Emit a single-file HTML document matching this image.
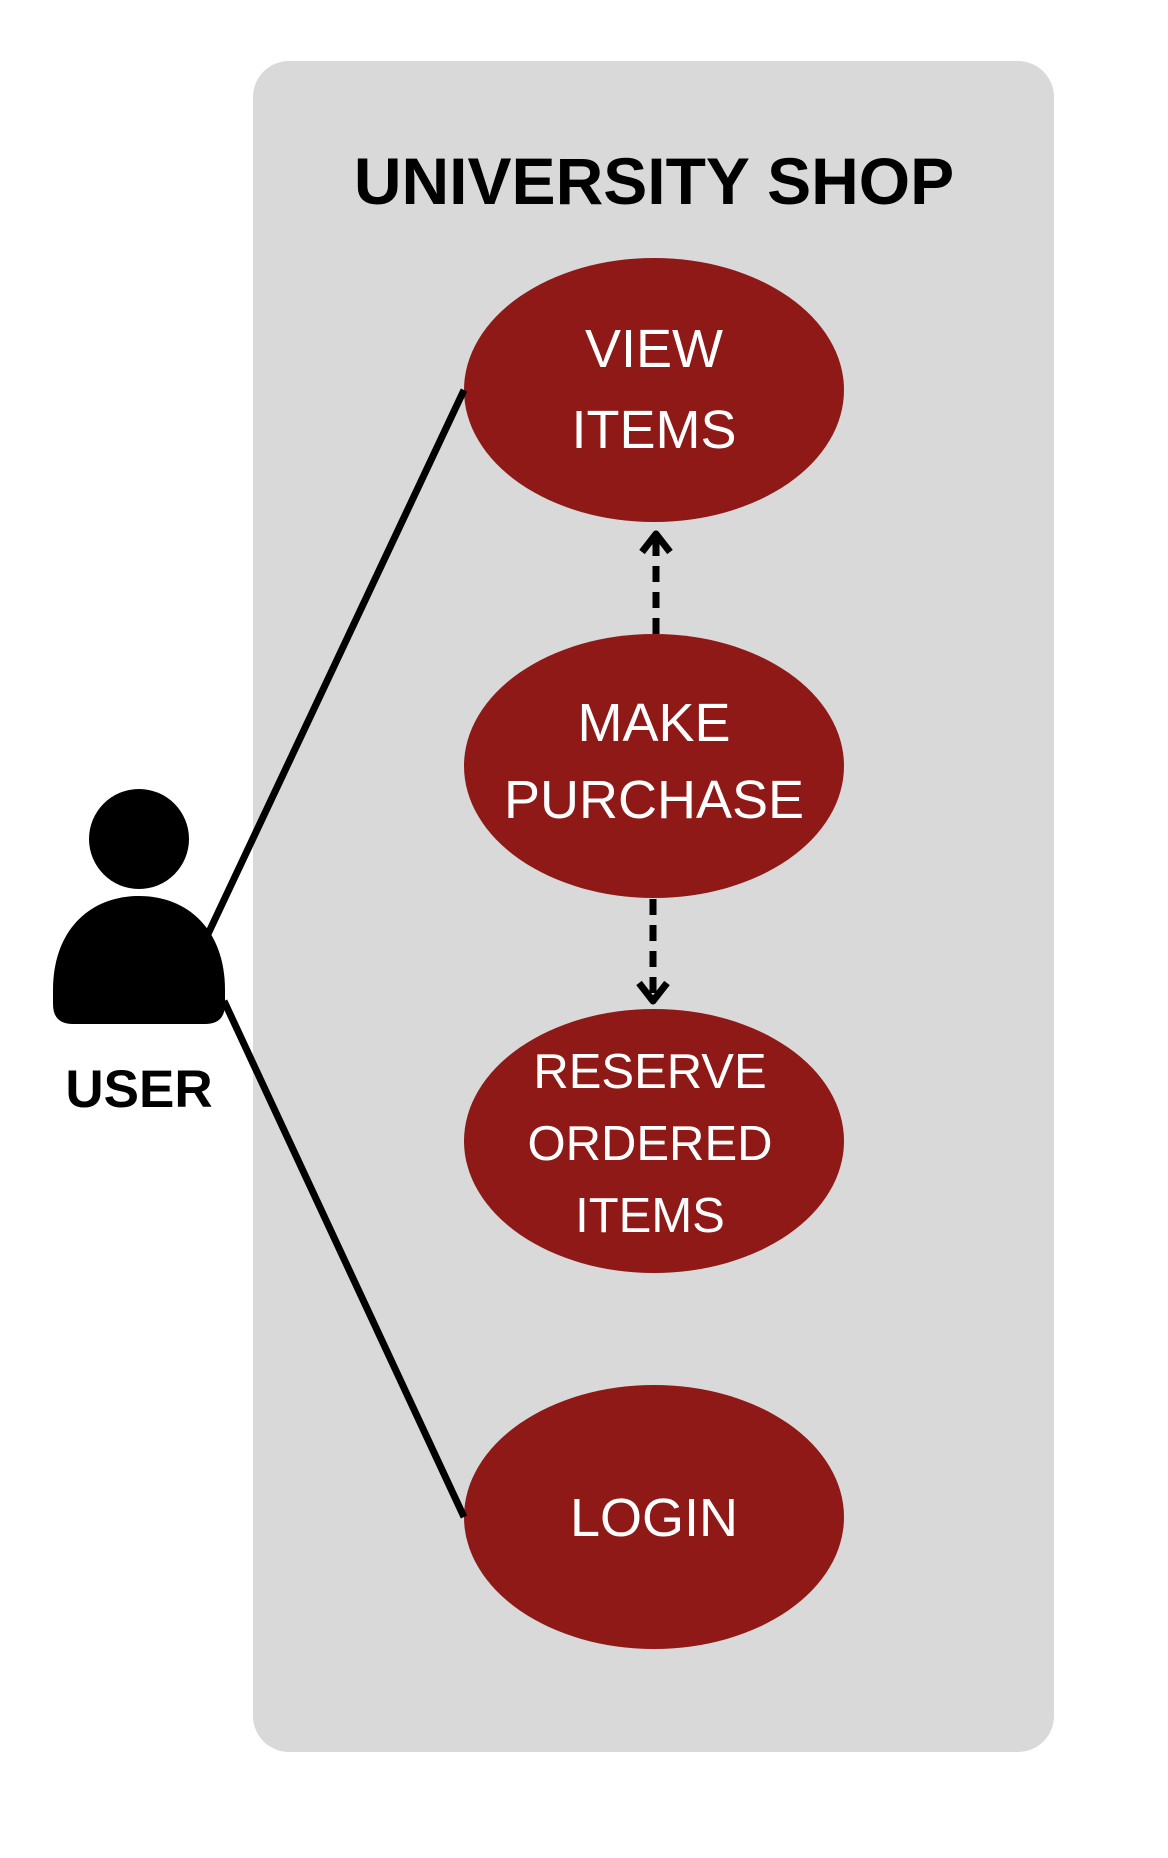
<!DOCTYPE html>
<html><head><meta charset="utf-8"><style>
html,body{margin:0;padding:0;background:#fff;}
svg{display:block;}
</style></head><body>
<svg width="1168" height="1858" viewBox="0 0 1168 1858" xmlns="http://www.w3.org/2000/svg">
<rect x="253" y="61" width="801" height="1691" rx="36" fill="#d9d9d9"/>
<text x="654" y="204" font-family="Liberation Sans, sans-serif" font-weight="bold" font-size="66" text-anchor="middle" fill="#000">UNIVERSITY SHOP</text>
<g fill="#8e1916">
<ellipse cx="654" cy="390" rx="190" ry="132"/>
<ellipse cx="654" cy="766" rx="190" ry="132"/>
<ellipse cx="654" cy="1141" rx="190" ry="132"/>
<ellipse cx="654" cy="1517" rx="190" ry="132"/>
</g>
<g font-family="Liberation Sans, sans-serif" fill="#fff" text-anchor="middle" font-size="54">
<text x="654" y="367">VIEW</text>
<text x="654" y="448">ITEMS</text>
<text x="654" y="741">MAKE</text>
<text x="654" y="818">PURCHASE</text>
<text x="650" y="1088" font-size="49">RESERVE</text>
<text x="650" y="1160" font-size="49">ORDERED</text>
<text x="650" y="1232" font-size="49">ITEMS</text>
<text x="654" y="1536">LOGIN</text>
</g>
<g stroke="#000" stroke-width="7" fill="none">
<line x1="208" y1="934" x2="464" y2="390"/>
<line x1="224" y1="1001" x2="464" y2="1517"/>
<line x1="656" y1="634" x2="656" y2="540" stroke-dasharray="16 10"/>
<polyline points="642,552 656,534 670,552" stroke-linejoin="round"/>
<line x1="653" y1="899" x2="653" y2="995" stroke-dasharray="16 10"/>
<polyline points="639,983 653,1001 667,983" stroke-linejoin="round"/>
</g>
<circle cx="139" cy="839" r="50" fill="#000"/>
<path d="M53,990 C53,930 90,896 139,896 C188,896 225,930 225,990 L225,1004 Q225,1024 205,1024 L73,1024 Q53,1024 53,1004 Z" fill="#000"/>
<text x="139" y="1107" font-family="Liberation Sans, sans-serif" font-weight="bold" font-size="53" text-anchor="middle" fill="#000">USER</text>
</svg>
</body></html>
